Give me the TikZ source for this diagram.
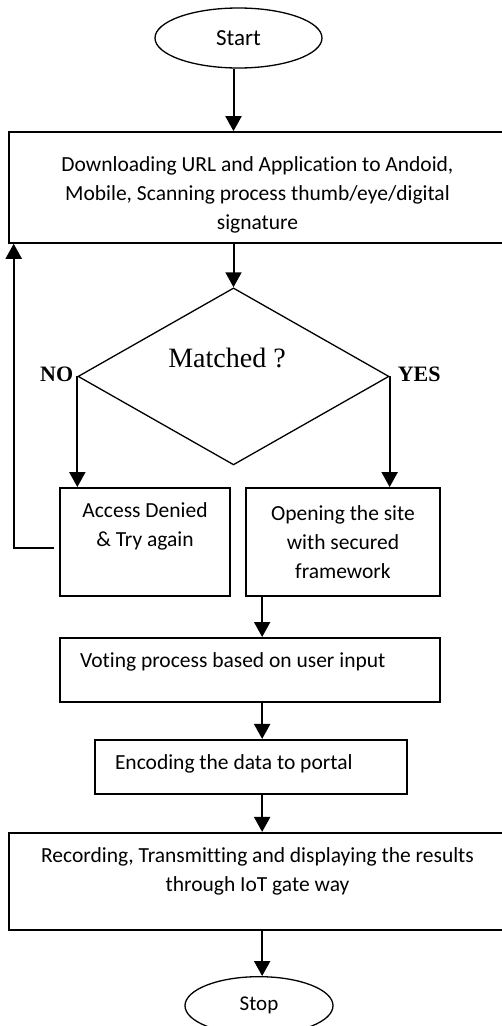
\documentclass[tikz,border=0pt]{standalone}
\usepackage{fontspec}
\setmainfont{Carlito}[Ligatures=CommonOff]
\newfontfamily\timesfont{Liberation Serif}
\usetikzlibrary{shapes.geometric,arrows.meta,calc}
\tikzstyle{terminator} = [ellipse, draw, line width=1.3pt, text centered, inner sep=0pt, font=\fontsize{21}{25}\selectfont]
\tikzstyle{process} = [rectangle, draw, line width=1.6pt, align=flush center, inner xsep=10pt, inner ysep=0pt, text height=15pt, font=\fontsize{21.5}{29}\selectfont]
\tikzstyle{decision} = [diamond, draw, line width=1.3pt, inner sep=0pt, minimum width=311pt, minimum height=177pt]
\tikzstyle{answer} = [inner sep=4pt, font=\timesfont\bfseries\fontsize{22}{26}\selectfont]
\tikzstyle{connector} = [line width=2pt, -{Triangle[length=15pt,width=16pt]}]

\begin{document}
\begin{tikzpicture}[x=1pt, y=1pt]
        \useasboundingbox (0,0) rectangle (501,-1026);
        \node (start) [terminator, minimum width=167pt, minimum height=60pt, font=\fontsize{23}{27}\selectfont] at (238.5,-38) {Start};
        \node (dl) [process, below of = start, yshift=-121pt, xshift=19pt, text width=477pt, minimum height=111pt, text depth=47pt] {Downloading URL and Application to Andoid,\\ Mobile, Scanning process thumb/eye/digital\\ signature};
        \node (match) [decision, below of = dl, yshift=-160.5pt, xshift=-24pt] {};
        \node (mtext) [above of = match, yshift=-10pt, xshift=-6.5pt, font=\timesfont\fontsize{28}{32}\selectfont] {Matched ?};
        \node (no) [answer, anchor=east, yshift=2pt] at (match.west) {NO};
        \node (yes) [answer, anchor=west, yshift=2pt, xshift=4pt] at (match.east) {YES};
        \node (deny) [process, below of = match, yshift=-137pt, xshift=-88.5pt, text width=150pt, minimum height=108pt, text depth=63pt] {Access Denied\\ \& Try again};
        \node (site) [process, right of = deny, xshift=169.5pt, text width=174pt, minimum height=108pt] {Opening the site\\ with secured\\ framework};
        \node (vote) [process, below of = deny, yshift=-99.5pt, xshift=105pt, align=flush left, inner xsep=20pt, text width=340pt, minimum height=64pt, text depth=19pt] {Voting process based on user input};
        \node (enc) [process, below of = vote, yshift=-68.5pt, xshift=1pt, align=flush left, inner xsep=20pt, text width=272pt, minimum height=54pt, text depth=9pt] {Encoding the data to portal};
        \node (rec) [process, below of = enc, yshift=-86pt, xshift=6.5pt, text width=477pt, minimum height=97pt, text depth=52pt] {Recording, Transmitting and displaying the results\\ through IoT gate way};
        \node (stop) [terminator, below of = rec, yshift=-96pt, xshift=1.5pt, minimum width=148pt, minimum height=58pt] {Stop};
        \coordinate (spine) at ([xshift=17pt]site.south west);
        \draw [connector] (match.north |- start.south) -- (match.north |- dl.north);
        \draw [connector] (match.north |- dl.south) -- (match.north);
        \draw [connector] (match.west) -- (match.west |- deny.north);
        \draw [connector] (match.east) -- (match.east |- site.north);
        \draw [connector, shorten <=5pt] ([yshift=-6pt]deny.west) -| ([xshift=5.5pt]dl.south west);
        \draw [connector] (spine |- site.south) -- (spine |- vote.north);
        \draw [connector] (spine |- vote.south) -- (spine |- enc.north);
        \draw [connector] (spine |- enc.south) -- (spine |- rec.north);
        \draw [connector] (spine |- rec.south) -- (spine |- stop.north);
    \end{tikzpicture}
\end{document}
